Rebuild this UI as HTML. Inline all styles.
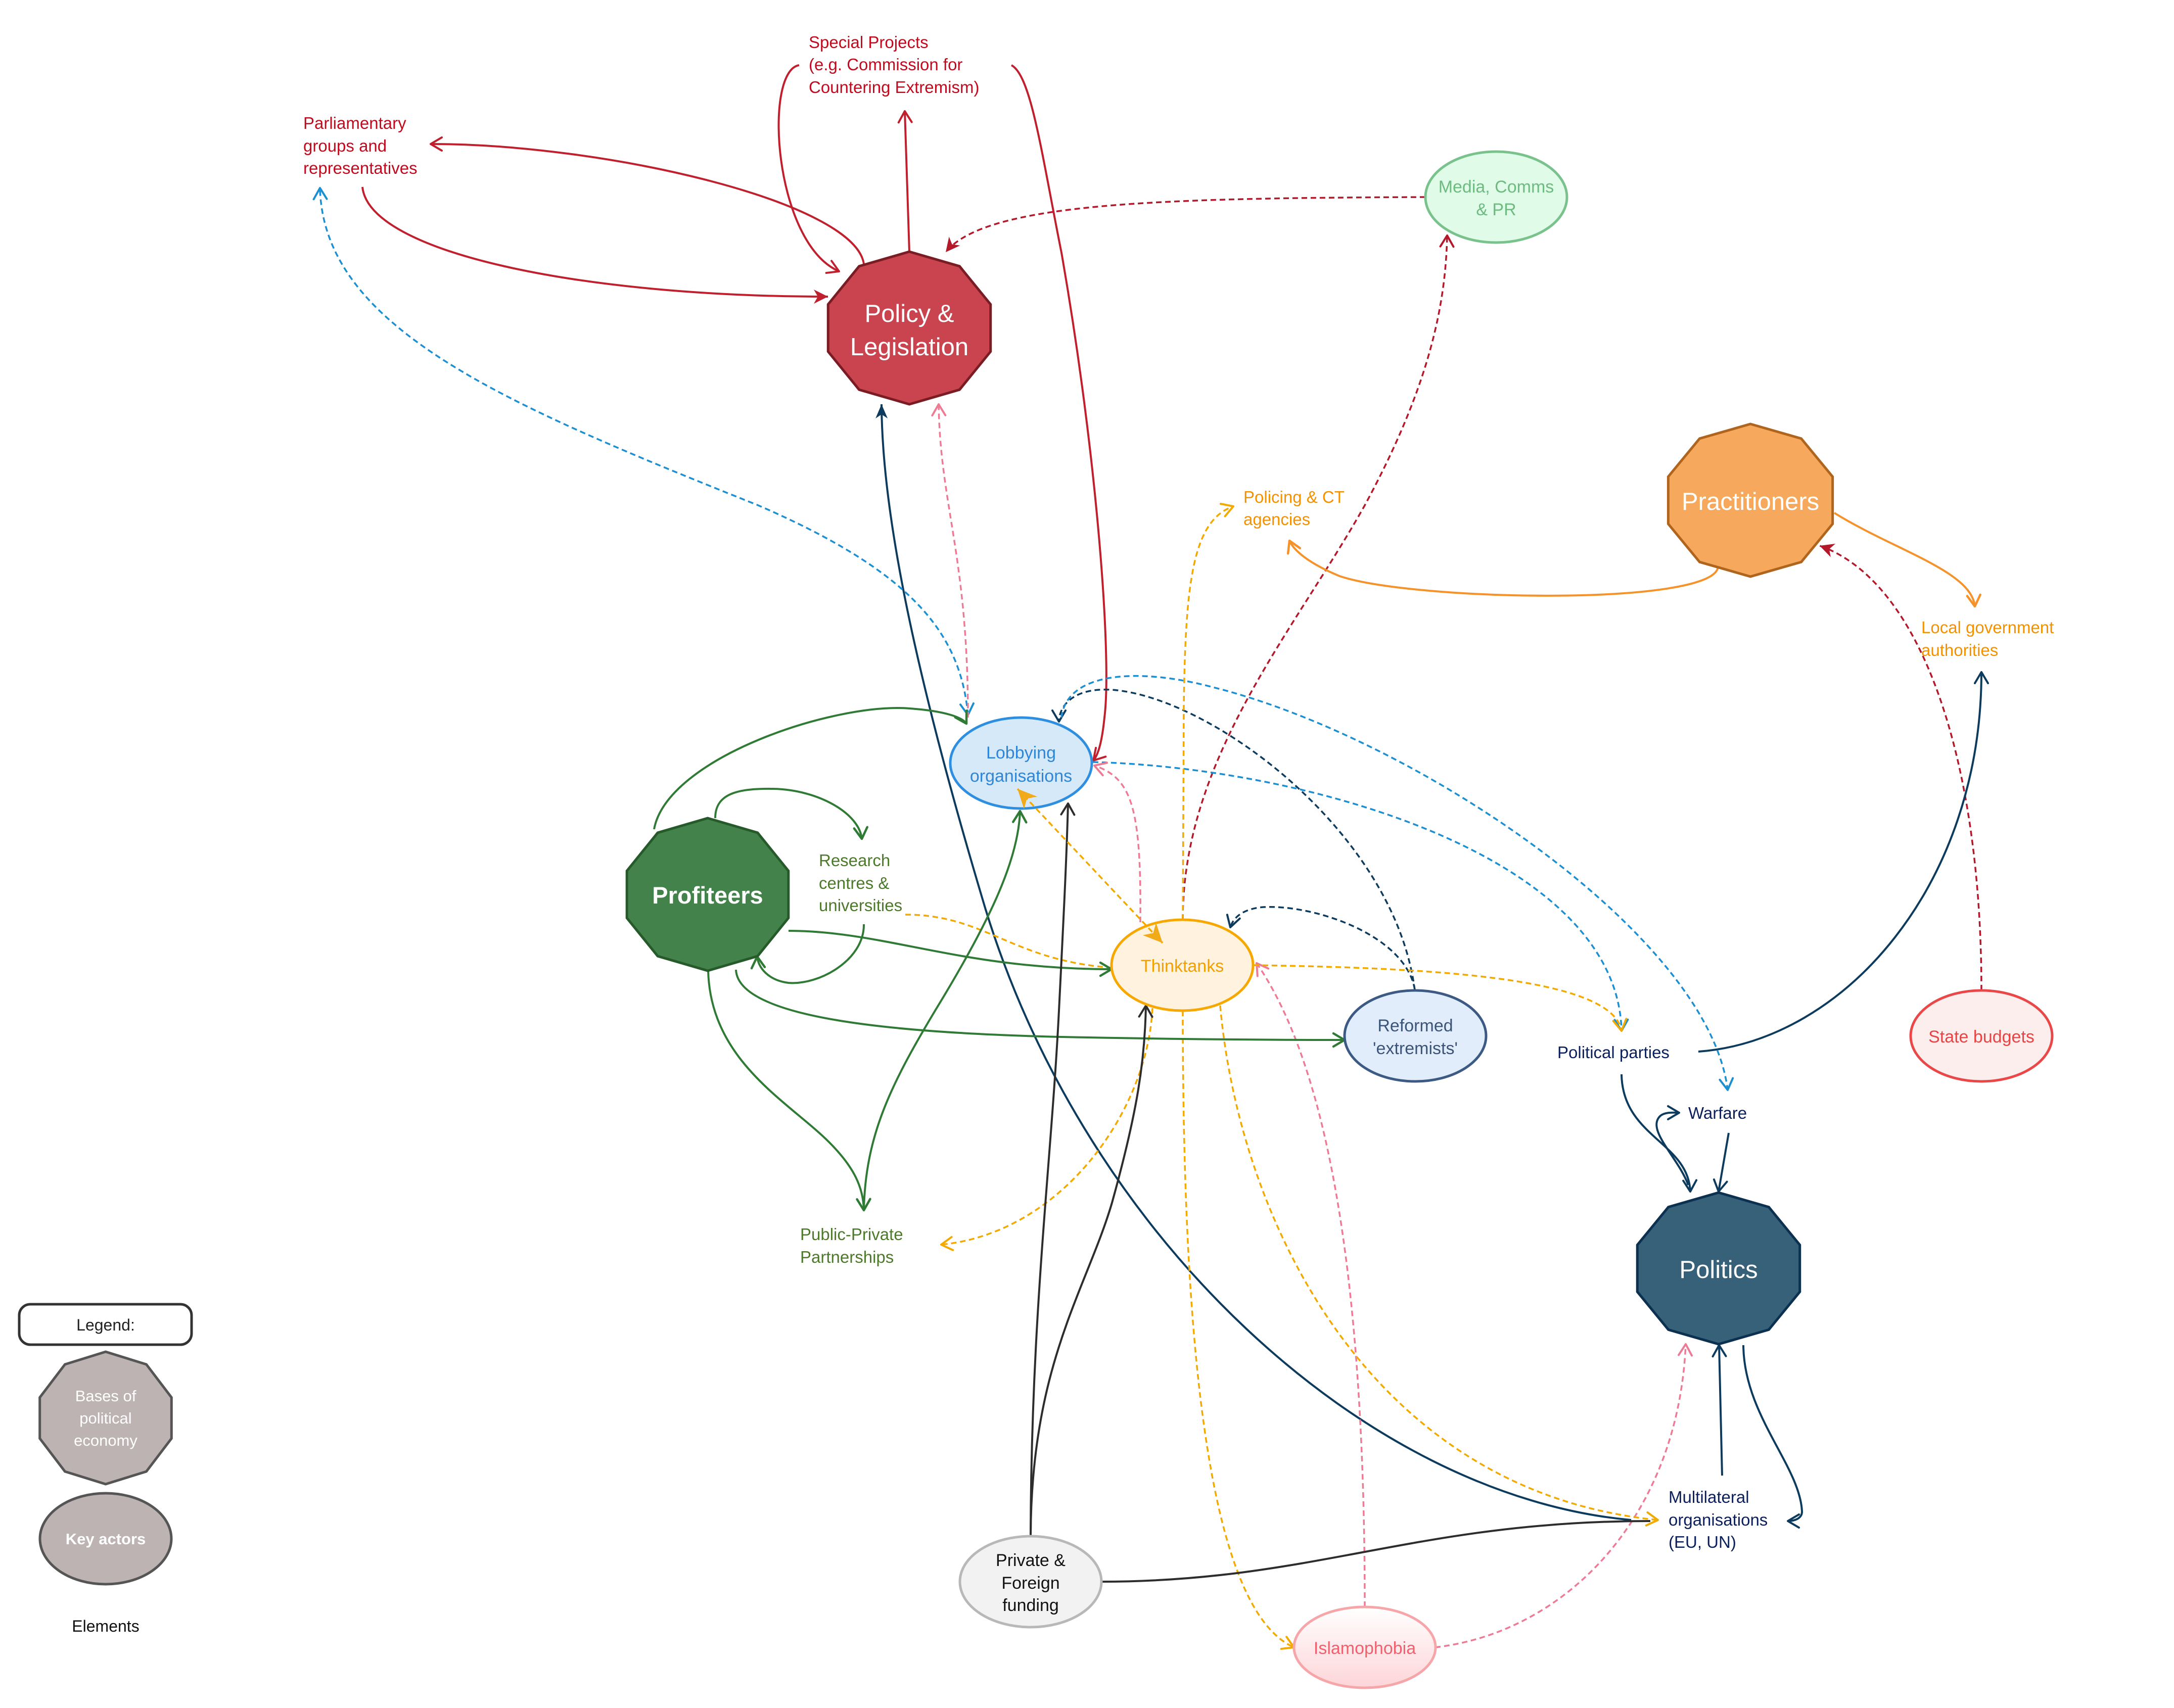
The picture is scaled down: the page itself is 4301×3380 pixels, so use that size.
<!DOCTYPE html>
<html>
<head>
<meta charset="utf-8">
<style>
html,body{margin:0;padding:0;background:#fff;}
svg{display:block;}
text{font-family:"Liberation Sans",Arial,sans-serif;}
.lbl{font-size:33px;}
.nd{font-size:34px;text-anchor:middle;}
.big{font-size:49px;text-anchor:middle;fill:#fff;}
.e{fill:none;stroke-width:4;}
.d{stroke-dasharray:11 7;stroke-width:3.5;}
</style>
</head>
<body>
<svg width="4301" height="3380" viewBox="0 0 4301 3380" xmlns="http://www.w3.org/2000/svg">
<defs>
  <linearGradient id="islg" x1="0" y1="0" x2="0" y2="1">
    <stop offset="0" stop-color="#ffffff"/>
    <stop offset="1" stop-color="#fdd5d8"/>
  </linearGradient>
  <!-- open chevrons -->
  <marker id="o-red" viewBox="-30 -20 40 40" markerWidth="40" markerHeight="40" refX="0" refY="0" orient="auto-start-reverse" markerUnits="userSpaceOnUse"><path d="M-22,-13 L0,0 L-22,13" fill="none" stroke="#c0202e" stroke-width="4" stroke-linecap="round" stroke-linejoin="round"/></marker>
  <marker id="o-dred" viewBox="-30 -20 40 40" markerWidth="40" markerHeight="40" refX="0" refY="0" orient="auto-start-reverse" markerUnits="userSpaceOnUse"><path d="M-22,-13 L0,0 L-22,13" fill="none" stroke="#b3192b" stroke-width="4" stroke-linecap="round" stroke-linejoin="round"/></marker>
  <marker id="o-navy" viewBox="-30 -20 40 40" markerWidth="40" markerHeight="40" refX="0" refY="0" orient="auto-start-reverse" markerUnits="userSpaceOnUse"><path d="M-22,-13 L0,0 L-22,13" fill="none" stroke="#0d3b5e" stroke-width="4" stroke-linecap="round" stroke-linejoin="round"/></marker>
  <marker id="o-blue" viewBox="-30 -20 40 40" markerWidth="40" markerHeight="40" refX="0" refY="0" orient="auto-start-reverse" markerUnits="userSpaceOnUse"><path d="M-22,-13 L0,0 L-22,13" fill="none" stroke="#1b8fd2" stroke-width="4" stroke-linecap="round" stroke-linejoin="round"/></marker>
  <marker id="o-pink" viewBox="-30 -20 40 40" markerWidth="40" markerHeight="40" refX="0" refY="0" orient="auto-start-reverse" markerUnits="userSpaceOnUse"><path d="M-22,-13 L0,0 L-22,13" fill="none" stroke="#ee7b96" stroke-width="4" stroke-linecap="round" stroke-linejoin="round"/></marker>
  <marker id="o-yel" viewBox="-30 -20 40 40" markerWidth="40" markerHeight="40" refX="0" refY="0" orient="auto-start-reverse" markerUnits="userSpaceOnUse"><path d="M-22,-13 L0,0 L-22,13" fill="none" stroke="#f2a900" stroke-width="4" stroke-linecap="round" stroke-linejoin="round"/></marker>
  <marker id="o-grn" viewBox="-30 -20 40 40" markerWidth="40" markerHeight="40" refX="0" refY="0" orient="auto-start-reverse" markerUnits="userSpaceOnUse"><path d="M-22,-13 L0,0 L-22,13" fill="none" stroke="#2f7a34" stroke-width="4.5" stroke-linecap="round" stroke-linejoin="round"/></marker>
  <marker id="o-blk" viewBox="-30 -20 40 40" markerWidth="40" markerHeight="40" refX="0" refY="0" orient="auto-start-reverse" markerUnits="userSpaceOnUse"><path d="M-22,-13 L0,0 L-22,13" fill="none" stroke="#2d2d2d" stroke-width="4" stroke-linecap="round" stroke-linejoin="round"/></marker>
  <marker id="o-org" viewBox="-30 -20 40 40" markerWidth="40" markerHeight="40" refX="0" refY="0" orient="auto-start-reverse" markerUnits="userSpaceOnUse"><path d="M-22,-13 L0,0 L-22,13" fill="none" stroke="#f5922a" stroke-width="4.5" stroke-linecap="round" stroke-linejoin="round"/></marker>
  <!-- filled arrows -->
  <marker id="f-red" viewBox="-30 -20 40 40" markerWidth="40" markerHeight="40" refX="0" refY="0" orient="auto-start-reverse" markerUnits="userSpaceOnUse"><path d="M-28,-14 L0,0 L-28,14 L-20,0 Z" fill="#c0202e"/></marker>
  <marker id="f-dred" viewBox="-30 -20 40 40" markerWidth="40" markerHeight="40" refX="0" refY="0" orient="auto-start-reverse" markerUnits="userSpaceOnUse"><path d="M-28,-14 L0,0 L-28,14 L-20,0 Z" fill="#b3192b"/></marker>
  <marker id="f-navy" viewBox="-30 -20 40 40" markerWidth="40" markerHeight="40" refX="0" refY="0" orient="auto-start-reverse" markerUnits="userSpaceOnUse"><path d="M-28,-12 L0,0 L-28,12 L-20,0 Z" fill="#0d3b5e"/></marker>
  <marker id="f-yel" viewBox="-45 -25 55 50" markerWidth="55" markerHeight="50" refX="0" refY="0" orient="auto-start-reverse" markerUnits="userSpaceOnUse"><path d="M-38,-18 L0,0 L-38,18 L-27,0 Z" fill="#f0aa1a"/></marker>
</defs>

<!-- ================= EDGES ================= -->
<!-- red solid -->
<g class="e" stroke="#c0202e">
  <path d="M1709,522 C1690,400 1200,285 852,285" marker-end="url(#o-red)"/>
  <path d="M717,370 C730,500 1150,587 1638,587" marker-end="url(#f-red)"/>
  <path d="M1799,498 L1790,220" marker-end="url(#o-red)"/>
  <path d="M1581,129 C1510,140 1530,480 1660,537" marker-end="url(#o-red)"/>
  <path d="M2001,129 C2040,150 2060,300 2100,500 C2170,900 2200,1300 2185,1420 C2180,1470 2172,1495 2163,1505" marker-end="url(#o-red)"/>
</g>
<!-- dark red dashed -->
<g class="e d" stroke="#b3192b">
  <path d="M2820,390 C2300,392 1950,400 1871,499" marker-end="url(#f-dred)"/>
  <path d="M2340,1820 C2340,1500 2560,1250 2700,1000 C2830,760 2860,600 2863,466" marker-end="url(#o-dred)"/>
  <path d="M3920,1960 C3920,1500 3800,1150 3600,1080" marker-end="url(#f-dred)"/>
</g>
<!-- navy solid -->
<g class="e" stroke="#0d3b5e">
  <path d="M3227,3008 C2700,2960 2150,2450 1950,1800 C1800,1300 1745,1000 1744,800" marker-end="url(#f-navy)"/>
  <path d="M3360,2081 C3650,2060 3920,1750 3920,1330" marker-end="url(#o-navy)"/>
  <path d="M3208,2126 C3210,2250 3340,2260 3344,2358" marker-end="url(#o-navy)"/>
  <path d="M3420,2242 L3400,2358" marker-end="url(#o-navy)"/>
  <path d="M3340,2345 C3320,2290 3255,2235 3285,2208 C3295,2200 3310,2202 3322,2202" marker-end="url(#o-navy)"/>
  <path d="M3407,2920 L3401,2662" marker-end="url(#o-navy)"/>
  <path d="M3449,2662 C3450,2800 3560,2900 3565,2990 C3566,3005 3550,3010 3537,3010" marker-end="url(#o-navy)"/>
</g>
<!-- navy dashed -->
<g class="e d" stroke="#0d3b5e">
  <path d="M2799,1960 C2760,1650 2400,1380 2200,1365 C2120,1360 2095,1400 2095,1428" marker-end="url(#o-navy)"/>
  <path d="M2799,1958 C2780,1850 2600,1790 2500,1795 C2460,1798 2440,1815 2434,1835" marker-end="url(#o-navy)"/>
</g>
<!-- blue dashed -->
<g class="e d" stroke="#1b8fd2">
  <path d="M1915,1415 C1900,1250 1800,1130 1500,1000 C1000,800 640,650 633,372" marker-start="url(#o-blue)" marker-end="url(#o-blue)"/>
  <path d="M2162,1508 C2600,1520 3200,1700 3208,2040" marker-end="url(#o-blue)"/>
  <path d="M2100,1420 C2110,1330 2250,1320 2400,1360 C2800,1460 3380,1850 3418,2157" marker-end="url(#o-blue)"/>
</g>
<!-- pink dashed -->
<g class="e d" stroke="#ee7b96">
  <path d="M1915,1420 C1915,1100 1860,1000 1857,800" marker-end="url(#o-pink)"/>
  <path d="M2700,3180 C2700,2500 2620,2100 2486,1906" marker-end="url(#o-pink)"/>
  <path d="M2839,3260 C3100,3230 3320,3000 3335,2660" marker-end="url(#o-pink)"/>
  <path d="M2256,1825 C2258,1600 2240,1540 2165,1515" marker-end="url(#o-pink)"/>
</g>
<!-- yellow dashed -->
<g class="e d" stroke="#f2a900">
  <path d="M2340,1820 L2342,1400 C2345,1150 2360,1030 2440,1002" marker-end="url(#o-yel)"/>
  <path d="M1791,1810 C1950,1810 2000,1900 2199,1915"/>
  <path d="M2280,1995 C2270,2200 2100,2440 1862,2463" marker-end="url(#o-yel)"/>
  <path d="M2414,1990 C2450,2400 2700,2950 3280,3008" marker-end="url(#o-yel)"/>
  <path d="M2340,2000 C2340,2600 2380,3180 2560,3260" marker-end="url(#o-yel)"/>
  <path d="M2480,1910 C2800,1915 3190,1930 3208,2040" marker-end="url(#o-yel)"/>
</g>
<!-- green solid -->
<g class="e" stroke="#2f7a34" stroke-width="4.5">
  <path d="M1294,1641 C1320,1500 1650,1390 1800,1402 C1870,1407 1905,1420 1912,1432" marker-end="url(#o-grn)"/>
  <path d="M1415,1619 C1415,1570 1460,1560 1530,1561 C1620,1563 1700,1610 1705,1660" marker-end="url(#o-grn)"/>
  <path d="M1709,1829 C1710,1900 1620,1950 1560,1945 C1520,1940 1500,1915 1498,1893" marker-end="url(#o-grn)"/>
  <path d="M1560,1842 C1750,1842 1900,1918 2199,1918" marker-end="url(#o-grn)"/>
  <path d="M1456,1919 C1460,2020 1800,2045 2100,2052 C2400,2058 2600,2058 2660,2058" marker-end="url(#o-grn)"/>
  <path d="M1401,1920 C1405,2100 1560,2180 1640,2260 C1690,2310 1708,2350 1709,2395" marker-end="url(#o-grn)"/>
  <path d="M1709,2395 C1712,2250 1760,2150 1850,2000 C1960,1820 2015,1700 2018,1605" marker-end="url(#o-grn)"/>
</g>
<!-- black solid -->
<g class="e" stroke="#2d2d2d">
  <path d="M2039,3040 C2040,2600 2080,2300 2095,2000 C2105,1800 2110,1700 2113,1590" marker-end="url(#o-blk)"/>
  <path d="M2039,3040 C2040,2700 2150,2550 2200,2380 C2250,2200 2265,2100 2267,1990" marker-end="url(#o-blk)"/>
  <path d="M2179,3130 C2600,3130 2800,3010 3265,3010"/>
</g>
<!-- orange solid -->
<g class="e" stroke="#f5922a" stroke-width="4.5">
  <path d="M3399,1120 C3400,1200 2800,1190 2650,1140 C2590,1115 2560,1090 2551,1070" marker-end="url(#o-org)"/>
  <path d="M3629,1015 C3750,1090 3900,1130 3907,1200" marker-end="url(#o-org)"/>
</g>

<!-- ================= NODES ================= -->
<!-- decagons -->
<polygon points="0,-1 0.5878,-0.809 0.9511,-0.309 0.9511,0.309 0.5878,0.809 0,1 -0.5878,0.809 -0.9511,0.309 -0.9511,-0.309 -0.5878,-0.809" transform="translate(1799,649) scale(169,151)" fill="#c9444e" stroke="#7a1c24" stroke-width="5" vector-effect="non-scaling-stroke"/>
<polygon points="0,-1 0.5878,-0.809 0.9511,-0.309 0.9511,0.309 0.5878,0.809 0,1 -0.5878,0.809 -0.9511,0.309 -0.9511,-0.309 -0.5878,-0.809" transform="translate(3463,990) scale(171,151)" fill="#f6a95c" stroke="#b0651e" stroke-width="5" vector-effect="non-scaling-stroke"/>
<polygon points="0,-1 0.5878,-0.809 0.9511,-0.309 0.9511,0.309 0.5878,0.809 0,1 -0.5878,0.809 -0.9511,0.309 -0.9511,-0.309 -0.5878,-0.809" transform="translate(1400,1770) scale(168,151)" fill="#43834b" stroke="#265a2b" stroke-width="5" vector-effect="non-scaling-stroke"/>
<polygon points="0,-1 0.5878,-0.809 0.9511,-0.309 0.9511,0.309 0.5878,0.809 0,1 -0.5878,0.809 -0.9511,0.309 -0.9511,-0.309 -0.5878,-0.809" transform="translate(3400,2510) scale(169,150)" fill="#376079" stroke="#0c3050" stroke-width="5" vector-effect="non-scaling-stroke"/>

<text class="big" x="1799" y="637">Policy &amp;</text>
<text class="big" x="1799" y="703">Legislation</text>
<text class="big" x="3463" y="1009">Practitioners</text>
<text class="big" x="1400" y="1788" font-weight="bold" style="font-size:47px">Profiteers</text>
<text class="big" x="3400" y="2529">Politics</text>

<!-- ellipses -->
<ellipse cx="2020" cy="1510" rx="140" ry="90" fill="#d6e9f9" stroke="#2e8fe0" stroke-width="5"/>
<text class="nd" x="2020" y="1501" fill="#2f86d6">Lobbying</text>
<text class="nd" x="2020" y="1547" fill="#2f86d6">organisations</text>

<ellipse cx="2339" cy="1910" rx="140" ry="90" fill="#fff3e0" stroke="#f6a800" stroke-width="5"/>
<text class="nd" x="2339" y="1923" fill="#f0a000">Thinktanks</text>

<ellipse cx="2800" cy="2050" rx="140" ry="90" fill="#e2edfc" stroke="#3c5a84" stroke-width="5"/>
<text class="nd" x="2800" y="2041" fill="#3b5478">Reformed</text>
<text class="nd" x="2800" y="2086" fill="#3b5478">'extremists'</text>

<ellipse cx="2960" cy="390" rx="140" ry="90" fill="#e0fbe7" stroke="#7ac28c" stroke-width="5"/>
<text class="nd" x="2960" y="381" fill="#6dbb80">Media, Comms</text>
<text class="nd" x="2960" y="426" fill="#6dbb80">&amp; PR</text>

<ellipse cx="3920" cy="2050" rx="140" ry="90" fill="#fdeeee" stroke="#ea4848" stroke-width="5"/>
<text class="nd" x="3920" y="2063" fill="#e84444">State budgets</text>

<ellipse cx="2700" cy="3260" rx="140" ry="80" fill="url(#islg)" stroke="#f6a5a8" stroke-width="5"/>
<text class="nd" x="2700" y="3273" fill="#f0606e">Islamophobia</text>

<ellipse cx="2039" cy="3130" rx="140" ry="90" fill="#f2f2f2" stroke="#b8b8b8" stroke-width="5"/>
<text class="nd" x="2039" y="3099" fill="#111">Private &amp;</text>
<text class="nd" x="2039" y="3144" fill="#111">Foreign</text>
<text class="nd" x="2039" y="3188" fill="#111">funding</text>

<!-- edge drawn above nodes: Lobbying <-> Thinktanks -->
<path class="e d" stroke="#f2a900" d="M2013,1561 L2300,1866" marker-start="url(#f-yel)" marker-end="url(#f-yel)"/>

<!-- ================= TEXT LABELS ================= -->
<g class="lbl" fill="#c00a1e">
  <text x="1600" y="95">Special Projects</text>
  <text x="1600" y="139">(e.g. Commission for</text>
  <text x="1600" y="184">Countering Extremism)</text>
  <text x="600" y="255">Parliamentary</text>
  <text x="600" y="300">groups and</text>
  <text x="600" y="344">representatives</text>
</g>
<g class="lbl" fill="#f39200">
  <text x="2460" y="995">Policing &amp; CT</text>
  <text x="2460" y="1039">agencies</text>
  <text x="3801" y="1253">Local government</text>
  <text x="3801" y="1298">authorities</text>
</g>
<g class="lbl" fill="#4d7a2a">
  <text x="1620" y="1714">Research</text>
  <text x="1620" y="1759">centres &amp;</text>
  <text x="1620" y="1803">universities</text>
  <text x="1583" y="2454">Public-Private</text>
  <text x="1583" y="2499">Partnerships</text>
</g>
<g class="lbl" fill="#0a1f5c">
  <text x="3081" y="2094">Political parties</text>
  <text x="3340" y="2214">Warfare</text>
  <text x="3301" y="2974">Multilateral</text>
  <text x="3301" y="3019">organisations</text>
  <text x="3301" y="3063">(EU, UN)</text>
</g>

<!-- ================= LEGEND ================= -->
<rect x="38" y="2581" width="341" height="80" rx="22" ry="22" fill="#fff" stroke="#333" stroke-width="5"/>
<text x="209" y="2633" text-anchor="middle" font-size="32" fill="#222">Legend:</text>
<polygon points="0,-1 0.5878,-0.809 0.9511,-0.309 0.9511,0.309 0.5878,0.809 0,1 -0.5878,0.809 -0.9511,0.309 -0.9511,-0.309 -0.5878,-0.809" transform="translate(209,2806) scale(137,131)" fill="#bdb3b3" stroke="#555" stroke-width="5" vector-effect="non-scaling-stroke"/>
<g font-size="31" fill="#fff" text-anchor="middle">
  <text x="209" y="2773">Bases of</text>
  <text x="209" y="2817">political</text>
  <text x="209" y="2861">economy</text>
</g>
<ellipse cx="209" cy="3045" rx="130" ry="90" fill="#bdb3b3" stroke="#555" stroke-width="5"/>
<text x="209" y="3056" text-anchor="middle" font-size="31" font-weight="bold" fill="#fff">Key actors</text>
<text x="209" y="3229" text-anchor="middle" font-size="32" fill="#111">Elements</text>
</svg>
</body>
</html>
